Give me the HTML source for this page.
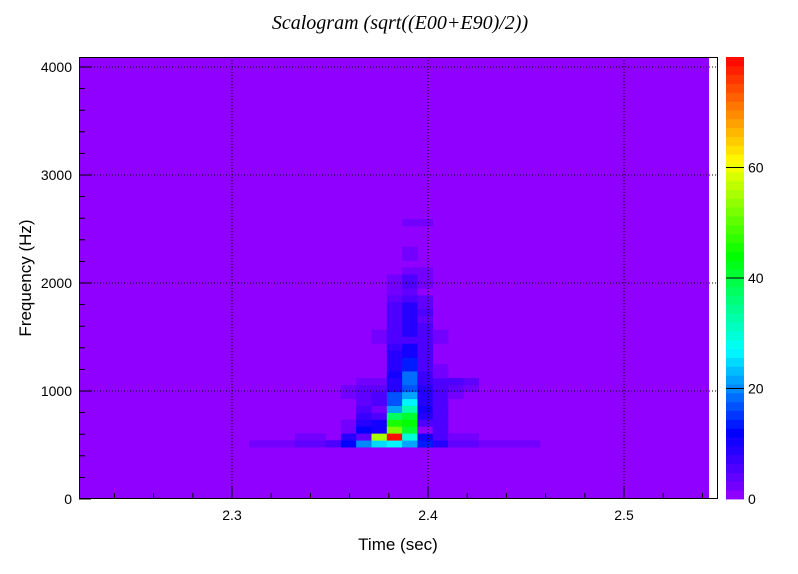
<!DOCTYPE html>
<html>
<head>
<meta charset="utf-8">
<style>
  html,body{margin:0;padding:0;background:#fff;}
  svg{display:block;}
  text{font-family:"Liberation Sans",sans-serif;}
</style>
</head>
<body>
<svg id="chart" width="798" height="574" viewBox="0 0 798 574">
  <text x="400" y="29" text-anchor="middle" font-style="italic" font-size="20" style="font-family:'Liberation Serif',serif">Scalogram (sqrt((E00+E90)/2))</text>
  <g id="plot"></g>
  <g id="colorbar"></g>
  <text x="398" y="550" text-anchor="middle" font-size="17">Time (sec)</text>
  <text x="0" y="0" text-anchor="middle" font-size="17" transform="translate(31,278) rotate(-90)">Frequency (Hz)</text>
</svg>
<script>
// ---- data ----
const timeStart = 2.30867;        // first column start (sec)
const timeStep = 1/128;           // column width (sec)
const freqStart = 480;            // first row start (Hz)
const freqStep = 64;              // row height (Hz)
const xTicks = [2.3, 2.4, 2.5];
const yTicks = [0, 1000, 2000, 3000, 4000];
const zTicks = [0, 20, 40, 60];
// rows from lowest frequency upward, 19 time columns each
const energyRows = [
  [3,3,3,4,4,6,12,20,24,26,22,14,8,4,4,3,3,3,2],
  [0,0,0,2,2,0,9,4,55,80,29,11,6,2,2,0,0,0,0],
  [0,0,0,0,0,0,3,12,10,52,40,1,6,0,0,0,0,0,0],
  [0,0,0,0,0,0,3,8,11,46,44,5,6,0,0,0,0,0,0],
  [0,0,0,0,0,0,0,7,5,37,40,8,6,0,0,0,0,0,0],
  [0,0,0,0,0,0,0,6,3,22,33,11,6,0,0,0,0,0,0],
  [0,0,0,0,0,0,0,4,6,16,26,9,6,0,0,0,0,0,0],
  [0,0,0,0,0,0,3,4,5,16,22,9,6,3,0,0,0,0,0],
  [0,0,0,0,0,0,3,4,4,9,16,8,6,4,3,0,0,0,0],
  [0,0,0,0,0,0,0,3,3,9,18,7,5,5,4,0,0,0,0],
  [0,0,0,0,0,0,0,0,0,10,18,7,3,0,0,0,0,0,0],
  [0,0,0,0,0,0,0,0,0,9,14,6,3,0,0,0,0,0,0],
  [0,0,0,0,0,0,0,0,0,8,13,6,0,0,0,0,0,0,0],
  [0,0,0,0,0,0,0,0,0,8,11,6,0,0,0,0,0,0,0],
  [0,0,0,0,0,0,0,0,0,7,11,6,0,0,0,0,0,0,0],
  [0,0,0,0,0,0,0,0,3,5,6,5,3,0,0,0,0,0,0],
  [0,0,0,0,0,0,0,0,3,6,8,5,3,0,0,0,0,0,0],
  [0,0,0,0,0,0,0,0,0,6,9,6,0,0,0,0,0,0,0],
  [0,0,0,0,0,0,0,0,0,6,8,4,0,0,0,0,0,0,0],
  [0,0,0,0,0,0,0,0,0,6,9,5,0,0,0,0,0,0,0],
  [0,0,0,0,0,0,0,0,0,6,8,4,0,0,0,0,0,0,0],
  [0,0,0,0,0,0,0,0,0,4,6,4,0,0,0,0,0,0,0],
  [0,0,0,0,0,0,0,0,0,3,4,1,0,0,0,0,0,0,0],
  [0,0,0,0,0,0,0,0,0,2,5,3,0,0,0,0,0,0,0],
  [0,0,0,0,0,0,0,0,0,3,5,3,0,0,0,0,0,0,0],
  [0,0,0,0,0,0,0,0,0,0,3,3,0,0,0,0,0,0,0],
  [0,0,0,0,0,0,0,0,0,0,0,0,0,0,0,0,0,0,0],
  [0,0,0,0,0,0,0,0,0,0,3,0,0,0,0,0,0,0,0],
  [0,0,0,0,0,0,0,0,0,0,3,0,0,0,0,0,0,0,0],
  [0,0,0,0,0,0,0,0,0,0,0,0,0,0,0,0,0,0,0],
  [0,0,0,0,0,0,0,0,0,0,0,0,0,0,0,0,0,0,0],
  [0,0,0,0,0,0,0,0,0,0,0,0,0,0,0,0,0,0,0],
  [0,0,0,0,0,0,0,0,0,0,2,2,0,0,0,0,0,0,0]
];

// ---- layout ----
const NS = "http://www.w3.org/2000/svg";
const L = 79, R = 718, T = 57, B = 499;
const fillRight = 709;
const yMin = 0;
const zMax = 80, nColors = 50;
function xs(t){ return 232 + (t - 2.3) * 1960; }
function ys(f){ return B - (f - yMin) * 0.108; }
function el(tag, attrs, parent){
  const e = document.createElementNS(NS, tag);
  for (const k in attrs) e.setAttribute(k, attrs[k]);
  parent.appendChild(e);
  return e;
}
const stops = [[0,[144,0,255]],[12,[0,0,255]],[27,[0,255,255]],[44,[0,255,0]],[61,[255,255,0]],[80,[255,0,0]]];
function rawColor(v){
  for (let i=1;i<stops.length;i++){
    if (v <= stops[i][0]){
      const a = stops[i-1], b = stops[i];
      const f = (v - a[0]) / (b[0] - a[0]);
      const c = a[1].map((x,j)=>Math.round(x + (b[1][j]-x)*f));
      return `rgb(${c[0]},${c[1]},${c[2]})`;
    }
  }
  return "rgb(255,0,0)";
}
function color(v){
  let bin = Math.floor(v / (zMax / nColors));
  if (bin >= nColors) bin = nColors - 1;
  if (bin < 0) bin = 0;
  return rawColor(bin === 0 ? 0 : (bin + 0.5) * zMax / nColors);
}

const plot = document.getElementById('plot');
const bg = el('rect', {x:L, y:T, width:fillRight-L, height:B-T, fill:color(0)}, plot);



energyRows.forEach((row, r) => {
  row.forEach((v, c) => {
    if (v <= 0) return;
    const x0 = xs(timeStart + c*timeStep), x1 = xs(timeStart + (c+1)*timeStep);
    const y0 = ys(freqStart + (r+1)*freqStep), y1 = ys(freqStart + r*freqStep);
    const cell = el('rect', {x:x0.toFixed(2), y:y0.toFixed(2), width:(x1-x0+0.3).toFixed(2), height:(y1-y0+0.3).toFixed(2), fill:color(v)}, plot);
    
    
  });
});

// grid
xTicks.forEach(t => {
  const g = el('line', {x1:xs(t), x2:xs(t), y1:T, y2:B, stroke:'#000', 'stroke-width':1, 'stroke-dasharray':'1,2'}, plot);
  
  
});
yTicks.forEach(f => {
  if (f === 0) return;
  const g = el('line', {x1:L, x2:R, y1:ys(f), y2:ys(f), stroke:'#000', 'stroke-width':1, 'stroke-dasharray':'1,2'}, plot);
  
  
});

// frame
const frame = el('rect', {x:L+0.5, y:T+0.5, width:R-L-1, height:B-T-1, fill:'none', stroke:'#000', 'stroke-width':1}, plot);



// x ticks
for (let k = 0; k <= 20; k++){
  const t = 2.22 + k*0.02;
  const x = xs(t);
  if (x < L || x > R) continue;
  const major = Math.abs(t*10 - Math.round(t*10)) < 1e-6;
  const tk = el('line', {x1:x, x2:x, y1:B, y2:B-(major?12:6), stroke:'#000'}, plot);
  
  
}
xTicks.forEach(t => {
  const lb = el('text', {x:xs(t), y:520, 'text-anchor':'middle', 'font-size':14}, plot);
  lb.textContent = t.toFixed(1);
  
  
});
// y ticks
for (let f = 0; f <= 4000; f += 200){
  const y = ys(f);
  const major = f % 1000 === 0;
  const tk = el('line', {x1:L, x2:L+(major?12:6), y1:y, y2:y, stroke:'#000'}, plot);
  
  
}
yTicks.forEach(f => {
  const lb = el('text', {x:72, y:ys(f)+5, 'text-anchor':'end', 'font-size':14}, plot);
  lb.textContent = String(f);
  
  
});

// colorbar
const cb = document.getElementById('colorbar');
const cbL = 726, cbR = 744;
function zs(v){ return B - v/zMax*(B-T); }
for (let i = 0; i < nColors; i++){
  const v0 = i*zMax/nColors, v1 = (i+1)*zMax/nColors;
  const s = el('rect', {x:cbL, y:zs(v1).toFixed(2), width:cbR-cbL, height:(zs(v0)-zs(v1)+0.4).toFixed(2), fill:color((v0+v1)/2)}, cb);
  
  
}
zTicks.forEach(v => {
  const y = zs(v);
  if (v > 0){
    const tk = el('line', {x1:cbL, x2:cbR, y1:y, y2:y, stroke:'#000'}, cb);
    
    
  }
  const lb = el('text', {x:748, y:y+5, 'font-size':14}, cb);
  lb.textContent = String(v);
  
  
});
</script>
</body>
</html>
